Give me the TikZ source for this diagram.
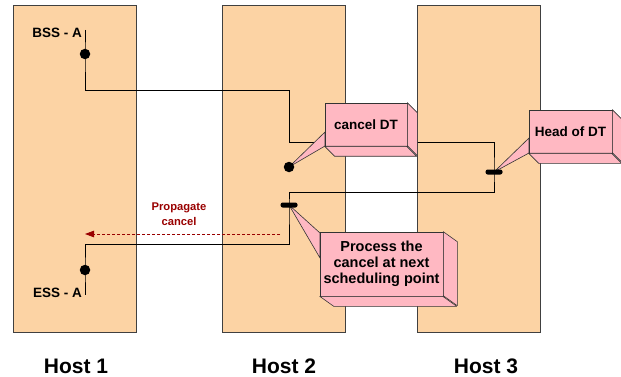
\documentclass[tikz,border=0pt]{standalone}
\usepackage{fontspec}
\setmainfont{Liberation Sans}
\usetikzlibrary{arrows.meta}
\definecolor{hostfill}{HTML}{FCD3A4}
\definecolor{notefill}{HTML}{FFB8C2}
\definecolor{cancelred}{HTML}{990000}

\begin{document}
\begin{tikzpicture}[x=1pt, y=-1pt,
	host/.style={rectangle, draw=black!75, fill=hostfill, line width=0.8pt, minimum width=123pt, minimum height=327pt, inner sep=0pt},
	hostname/.style={font=\fontsize{21}{25}\selectfont\bfseries, inner sep=0pt},
	tag/.style={font=\fontsize{13.5}{16}\selectfont\bfseries, inner sep=0pt},
	note/.style={rectangle, draw=black!80, fill=notefill, line width=0.6pt, align=center, inner sep=0pt, font=\fontsize{13.5}{16}\selectfont\bfseries},
	face/.style={draw=black!80, fill=notefill, line width=0.6pt, line join=round},
	dot/.style={circle, fill=black, minimum size=10.5pt, inner sep=0pt},
	bar/.style={rectangle, rounded corners=2.2pt, fill=black, minimum width=17pt, minimum height=5pt, inner sep=0pt},
	flow/.style={line width=0.8pt}]
	\useasboundingbox (0,0) rectangle (621,377);

	% hosts
	\node[host] (h1) at (74.5,168.5) {};
	\node[host] (h2) at (283.5,168.5) {};
	\node[host] (h3) at (478.5,168.5) {};
	\node[hostname] (n1) at (76,366) {Host 1};
	\node[hostname] (n2) at (284,366) {Host 2};
	\node[hostname] (n3) at (486,366) {Host 3};

	% points on the thread
	\coordinate (bss) at (85,30);
	\coordinate (p1) at (85,54);
	\coordinate (p2) at (289,167);
	\coordinate (p3) at (494,172);
	\coordinate (p4) at (289,205);
	\coordinate (p5) at (85,270);
	\coordinate (ess) at (85,295);

	\draw[flow] (bss) -- (p1) -- (85,90) -- (289,90) -- (289,142) -- (494,142)
		-- (p3) -- (494,192) -- (289,192) -- (p4) -- (289,244) -- (85,244) -- (p5) -- (ess);

	% propagate
	\coordinate (pstart) at (280,234);
	\coordinate (pend) at (85,234);
	\draw[cancelred, line width=0.8pt, dash pattern=on 3pt off 2pt, -{Triangle[length=9pt,width=6.5pt]}] (pstart) -- (pend);
	\node[text=cancelred, align=center, font=\fontsize{11.2}{15.5}\selectfont\bfseries] (prop) at (179,214) {Propagate\\cancel};

	% cancel DT
	\filldraw[face] (325,132) -- (p2) -- (325,146) -- cycle;
	\node[note, minimum width=82pt, minimum height=43pt] (cdt) at (366,124.5) {cancel DT};
	\filldraw[face] (cdt.north east) -- ++(10,10) -- ++(0,43) -- ++(-10,-10) -- cycle;
	\filldraw[face] (cdt.south west) -- ++(10,10) -- ++(82,0) -- ++(-10,-10) -- cycle;

	% head of DT
	\filldraw[face] (529,138) -- (p3) -- (529,153) -- cycle;
	\node[note, minimum width=83pt, minimum height=43pt] (hdt) at (570.5,131.5) {Head of DT};
	\filldraw[face] (hdt.north east) -- ++(10,10) -- ++(0,43) -- ++(-10,-10) -- cycle;
	\filldraw[face] (hdt.south west) -- ++(10,10) -- ++(83,0) -- ++(-10,-10) -- cycle;

	% process
	\filldraw[face] (320,233) -- (p4) -- (320,258) -- cycle;
	\node[note, minimum width=123pt, minimum height=64pt, font=\fontsize{14.5}{16}\selectfont\bfseries] (proc) at (381.5,264) {Process the\\cancel at next\\scheduling point};
	\filldraw[face] (proc.north east) -- ++(14,10) -- ++(0,64) -- ++(-14,-10) -- cycle;
	\filldraw[face] (proc.south west) -- ++(14,10) -- ++(123,0) -- ++(-14,-10) -- cycle;

	% marks
	\node[dot] (bssdot) at (p1) {};
	\node[dot] (hostdot) at (p2) {};
	\node[bar] (headbar) at (p3) {};
	\node[bar] (procbar) at (p4) {};
	\node[dot] (essdot) at (p5) {};

	\node[tag, anchor=east] (bsstag) at (82,33) {BSS - A};
	\node[tag, anchor=east] (esstag) at (82,293) {ESS - A};
\end{tikzpicture}
\end{document}
